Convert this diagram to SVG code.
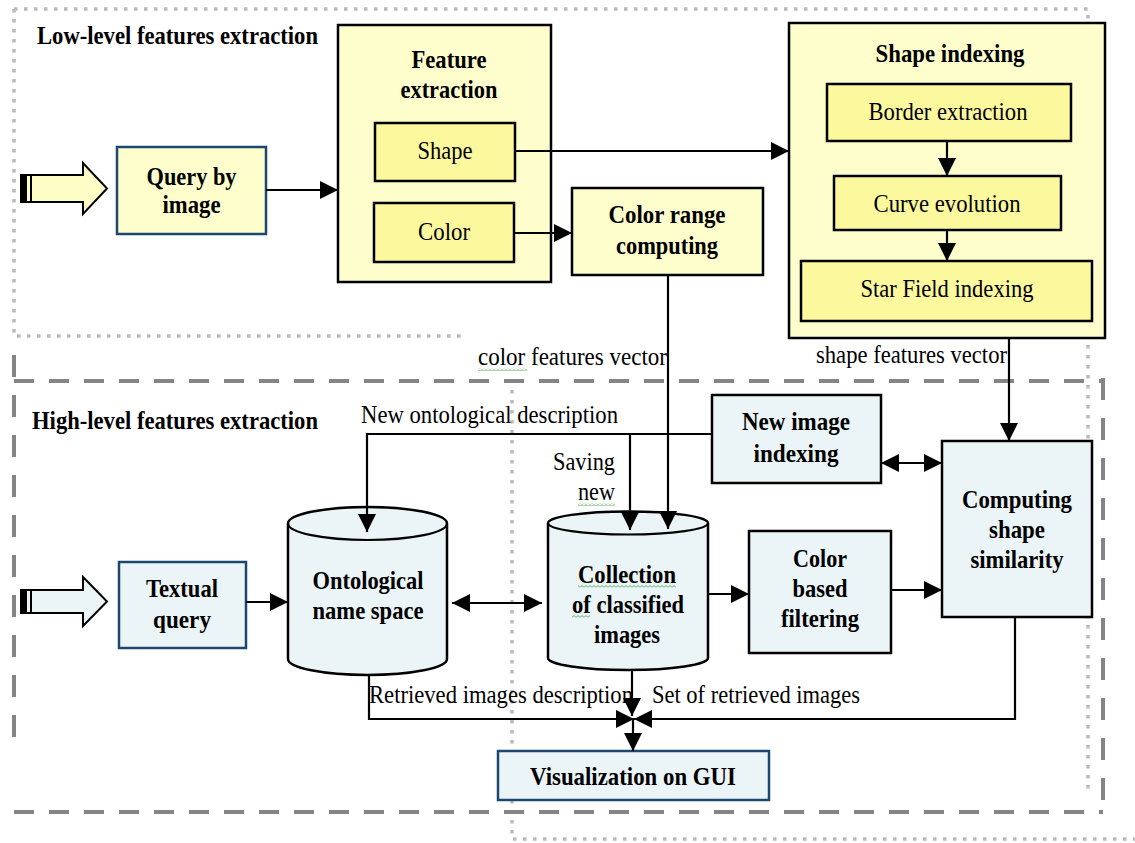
<svg xmlns="http://www.w3.org/2000/svg" width="1135" height="843" viewBox="0 0 1135 843">
<defs>
<style>
.t{font-family:"Liberation Serif","Times New Roman",serif;font-size:25px;fill:#000}
.b{font-weight:bold}
.m{text-anchor:middle}
.e{text-anchor:end}
.y1{fill:#fefecd;stroke:#000;stroke-width:2.5}
.y2{fill:#fcf89e;stroke:#000;stroke-width:2.5}
.bl{fill:#ebf4f6;stroke:#000;stroke-width:2.5}
.nv{stroke:#1c4770}
.ln{fill:none;stroke:#000;stroke-width:2.2}
.arr{marker-end:url(#ah)}
.dbl{marker-start:url(#ah);marker-end:url(#ah)}
.dash{fill:none;stroke:#858585;stroke-width:4;stroke-dasharray:20 15}
.dashv{fill:none;stroke:#858585;stroke-width:4;stroke-dasharray:22 18}
.dot{fill:none;stroke:#bababa;stroke-width:3.5;stroke-dasharray:3.5 6.5}
.wv{fill:url(#wavy)}
</style>
<marker id="ah" viewBox="0 0 18 18" refX="18" refY="9" markerWidth="18" markerHeight="18" markerUnits="userSpaceOnUse" orient="auto-start-reverse"><path d="M0,0 L18,9 L0,18 Z" fill="#000"/></marker>
<pattern id="wavy" width="4" height="3" patternUnits="userSpaceOnUse"><path d="M0,2.5 L2,0.5 L4,2.5" fill="none" stroke="#3fa34d" stroke-width="0.9"/></pattern>
</defs>
<rect width="1135" height="843" fill="#fff"/>

<g id="frames">
<path class="dot" d="M14,9 H1088 V790"/>
<path class="dot" d="M14,9 V336 H461"/>
<path class="dot" d="M512,390 V839 H1135"/>
<path class="dash" d="M14,381 H1103"/>
<path class="dash" d="M14,812 H1103"/>
<path class="dashv" d="M1103,378 V812"/>
<path class="dashv" d="M14,355 V750"/>
</g>

<g id="low-level-title"><text class="t b" x="37" y="44" textLength="281" lengthAdjust="spacingAndGlyphs">Low-level features extraction</text></g>
<g id="high-level-title"><text class="t b" x="32" y="429" textLength="286" lengthAdjust="spacingAndGlyphs">High-level features extraction</text></g>

<g id="image-input-arrow">
<path d="M21,175 H83 V163 L107,188.5 L83,214 V202 H21 Z" fill="#fdfdc5" stroke="#000" stroke-width="2"/>
<rect x="21" y="175" width="6" height="27" fill="#000"/>
<line x1="31" y1="175" x2="31" y2="202" stroke="#000" stroke-width="2"/>
</g>

<g id="query-by-image">
<rect class="y1 nv" x="117" y="147" width="149" height="87"/>
<text class="t b m" x="191.5" y="185" textLength="90" lengthAdjust="spacingAndGlyphs">Query by</text>
<text class="t b m" x="191.5" y="213" textLength="58" lengthAdjust="spacingAndGlyphs">image</text>
</g>

<g id="feature-extraction">
<rect class="y1" x="338" y="25" width="213" height="257"/>
<text class="t b m" x="449" y="68" textLength="75" lengthAdjust="spacingAndGlyphs">Feature</text>
<text class="t b m" x="449" y="98" textLength="97" lengthAdjust="spacingAndGlyphs">extraction</text>
</g>
<g id="shape">
<rect class="y2" x="375" y="123" width="140" height="58"/>
<text class="t m" x="445" y="159" textLength="55" lengthAdjust="spacingAndGlyphs">Shape</text>
</g>
<g id="color">
<rect class="y2" x="374" y="203" width="140" height="59"/>
<text class="t m" x="444" y="240" textLength="52" lengthAdjust="spacingAndGlyphs">Color</text>
</g>

<g id="color-range-computing">
<rect class="y1" x="572" y="188" width="191" height="87"/>
<text class="t b m" x="667" y="223" textLength="117" lengthAdjust="spacingAndGlyphs">Color range</text>
<text class="t b m" x="667" y="254" textLength="102" lengthAdjust="spacingAndGlyphs">computing</text>
</g>

<g id="shape-indexing">
<rect class="y1" x="789" y="23" width="316" height="315"/>
<text class="t b m" x="950" y="62" textLength="149" lengthAdjust="spacingAndGlyphs">Shape indexing</text>
</g>
<g id="border-extraction">
<rect class="y2" x="827" y="84" width="244" height="57"/>
<text class="t m" x="948" y="120" textLength="159" lengthAdjust="spacingAndGlyphs">Border extraction</text>
</g>
<g id="curve-evolution">
<rect class="y2" x="834" y="176" width="227" height="54"/>
<text class="t m" x="947" y="212" textLength="147" lengthAdjust="spacingAndGlyphs">Curve evolution</text>
</g>
<g id="star-field-indexing">
<rect class="y2" x="801" y="261" width="291" height="60"/>
<text class="t m" x="947" y="297" textLength="173" lengthAdjust="spacingAndGlyphs">Star Field indexing</text>
</g>

<g id="text-input-arrow">
<path d="M21,590 H83 V577 L107,601.5 L83,626 V613 H21 Z" fill="#ebf4f6" stroke="#000" stroke-width="2"/>
<rect x="21" y="590" width="6" height="23" fill="#000"/>
<line x1="31" y1="590" x2="31" y2="613" stroke="#000" stroke-width="2"/>
</g>

<g id="textual-query">
<rect class="bl nv" x="119" y="562" width="127" height="86"/>
<text class="t b m" x="182" y="597" textLength="72" lengthAdjust="spacingAndGlyphs">Textual</text>
<text class="t b m" x="182" y="628" textLength="58" lengthAdjust="spacingAndGlyphs">query</text>
</g>

<g id="ontological-name-space">
<path class="bl" d="M288,523.5 A79.5,16.5 0 0 1 447,523.5 V659 A79.5,16 0 0 1 288,659 Z"/>
<path class="ln" stroke-width="2.5" d="M288,523.5 A79.5,16.5 0 0 0 447,523.5"/>
<text class="t b m" x="368" y="589" textLength="111" lengthAdjust="spacingAndGlyphs">Ontological</text>
<text class="t b m" x="368" y="619" textLength="111" lengthAdjust="spacingAndGlyphs">name space</text>
</g>

<g id="collection">
<path class="bl" d="M548,523 A80,11.5 0 0 1 708,523 V658 A80,12 0 0 1 548,658 Z"/>
<path class="ln" stroke-width="2.5" d="M548,523 A80,11.5 0 0 0 708,523"/>
<text class="t b m" x="627" y="583" textLength="98" lengthAdjust="spacingAndGlyphs">Collection</text>
<text class="t b m" x="628" y="613" textLength="112" lengthAdjust="spacingAndGlyphs">of classified</text>
<text class="t b m" x="627" y="643" textLength="66" lengthAdjust="spacingAndGlyphs">images</text>
<rect class="wv" x="578" y="585" width="98" height="3"/>
<rect class="wv" x="572" y="615" width="18" height="3"/>
</g>

<g id="new-image-indexing">
<rect class="bl" x="712" y="395" width="169" height="88"/>
<text class="t b m" x="796" y="430" textLength="108" lengthAdjust="spacingAndGlyphs">New image</text>
<text class="t b m" x="796" y="462" textLength="85" lengthAdjust="spacingAndGlyphs">indexing</text>
</g>

<g id="color-based-filtering">
<rect class="bl" x="749" y="531" width="142" height="122"/>
<text class="t b m" x="820" y="567" textLength="54" lengthAdjust="spacingAndGlyphs">Color</text>
<text class="t b m" x="820" y="597" textLength="55" lengthAdjust="spacingAndGlyphs">based</text>
<text class="t b m" x="820" y="627" textLength="78" lengthAdjust="spacingAndGlyphs">filtering</text>
</g>

<g id="computing-shape-similarity">
<rect class="bl" x="942" y="441" width="150" height="176"/>
<text class="t b m" x="1017" y="508" textLength="110" lengthAdjust="spacingAndGlyphs">Computing</text>
<text class="t b m" x="1017" y="538" textLength="56" lengthAdjust="spacingAndGlyphs">shape</text>
<text class="t b m" x="1017" y="568" textLength="93" lengthAdjust="spacingAndGlyphs">similarity</text>
</g>

<g id="visualization-on-gui">
<rect class="bl nv" x="498" y="751" width="271" height="49"/>
<text class="t b m" x="633" y="785" textLength="206" lengthAdjust="spacingAndGlyphs">Visualization on GUI</text>
</g>

<g id="connectors">
<path class="ln arr" d="M266,190 H338"/>
<path class="ln arr" d="M515,151 H789"/>
<path class="ln arr" d="M514,233 H572"/>
<path class="ln arr" d="M947,141 V176"/>
<path class="ln arr" d="M947,230 V261"/>
<path class="ln arr" d="M668,275 V529"/>
<path class="ln arr" d="M1009,338 V441"/>
<path class="ln arr" d="M712,434 H367 V532"/>
<path class="ln arr" d="M630,434 V530"/>
<path class="ln arr" d="M246,602 H288"/>
<path class="ln dbl" d="M452,603 H542"/>
<path class="ln dbl" d="M881,463 H942"/>
<path class="ln arr" d="M708,594 H749"/>
<path class="ln arr" d="M891,590 H942"/>
<path class="ln arr" d="M369,675 V719 H634"/>
<path class="ln arr" d="M1015,617 V719 H634"/>
<path class="ln arr" d="M632,670 V716"/>
<path class="ln arr" d="M633,719 V751"/>
<text class="t" x="478" y="365" textLength="189" lengthAdjust="spacingAndGlyphs">color features vector</text>
<rect class="wv" x="478" y="368" width="49" height="3"/>
<text class="t" x="816" y="363" textLength="191" lengthAdjust="spacingAndGlyphs">shape features vector</text>
<text class="t" x="361" y="423" textLength="257" lengthAdjust="spacingAndGlyphs">New ontological description</text>
<text class="t e" x="615" y="470" textLength="62" lengthAdjust="spacingAndGlyphs">Saving</text>
<text class="t e" x="615" y="500" textLength="37" lengthAdjust="spacingAndGlyphs">new</text>
<rect class="wv" x="578" y="503" width="37" height="3"/>
<text class="t" x="369" y="703" textLength="264" lengthAdjust="spacingAndGlyphs">Retrieved images description</text>
<text class="t" x="652" y="703" textLength="208" lengthAdjust="spacingAndGlyphs">Set of retrieved images</text>
</g>
</svg>
